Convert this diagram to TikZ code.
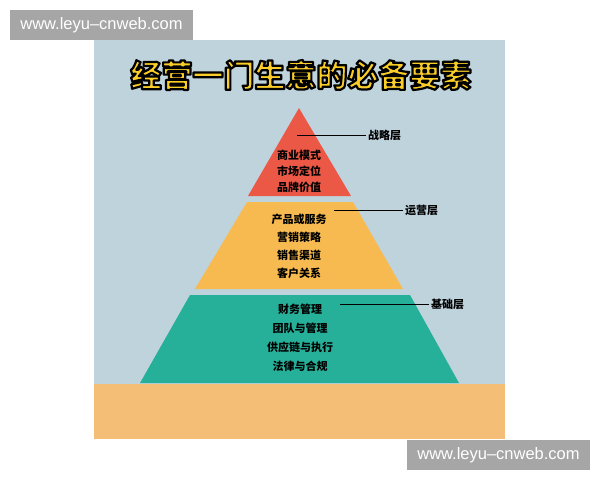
\documentclass[tikz,border=0pt]{standalone}
\usepackage{fontspec}
\setmainfont{Liberation Sans}
\newfontfamily\cjk{Noto Sans CJK SC}
\definecolor{panelbg}{RGB}{191,211,221}
\definecolor{topred}{RGB}{236,88,70}
\definecolor{midyellow}{RGB}{246,186,80}
\definecolor{basegreen}{RGB}{38,176,154}
\definecolor{sand}{RGB}{244,190,118}
\definecolor{titleyellow}{RGB}{250,205,40}
\definecolor{markgray}{RGB}{166,166,166}
\begin{document}
\begin{tikzpicture}[x=1pt,y=-1pt,font=\cjk\bfseries\fontsize{11}{13}\selectfont,
  layer/.style={anchor=west,inner sep=2pt},
  webmark/.style={fill=markgray,text=white,minimum width=183,minimum height=30,inner sep=0pt,font=\fontsize{16.5}{18}\selectfont}]
\useasboundingbox (0,0) rectangle (600,480);
\fill[white] (0,0) rectangle (600,480);
\fill[panelbg] (94,40) rectangle (505,439);
\fill[sand] (94,384) rectangle (505,439);
\fill[topred] (299,108) -- (351,196) -- (248,196) -- cycle;
\fill[midyellow] (247,202) -- (353,202) -- (403,289) -- (195,289) -- cycle;
\fill[basegreen] (190,295) -- (410,295) -- (459,383) -- (140,383) -- cycle;
\node (title) at (301,75) {\fontsize{31}{34}\selectfont\textcolor{titleyellow}{\special{pdf:literal direct 2 Tr 2.2 w 1 j 0 0 0 RG}经营一门生意的必备要素\special{pdf:literal direct 0 Tr 0.4 w}}};
\foreach \t [count=\i] in {商业模式,市场定位,品牌价值}
  \node (red\i) at (299,139+16*\i) {\t};
\foreach \t [count=\i] in {产品或服务,营销策略,销售渠道,客户关系}
  \node (yel\i) at (299,201+18*\i) {\t};
\foreach \t [count=\i] in {财务管理,团队与管理,供应链与执行,法律与合规}
  \node (grn\i) at (300,291+18.7*\i) {\t};
\coordinate (redtip) at (297,135);
\coordinate (yeltip) at (334,210);
\coordinate (grntip) at (340,304);
\node[layer] (strategy) at (366,135) {战略层};
\node[layer] (operate) at (403,210) {运营层};
\node[layer] (basis) at (429,304) {基础层};
\draw[thick] (redtip) -- (strategy.west);
\draw[thick] (yeltip) -- (operate.west);
\draw[thick] (grntip) -- (basis.west);
\node[webmark] (markA) at (101.5,25) {www.leyu–cnweb.com};
\node[webmark] (markB) at (498.5,455) {www.leyu–cnweb.com};
\end{tikzpicture}
\end{document}
